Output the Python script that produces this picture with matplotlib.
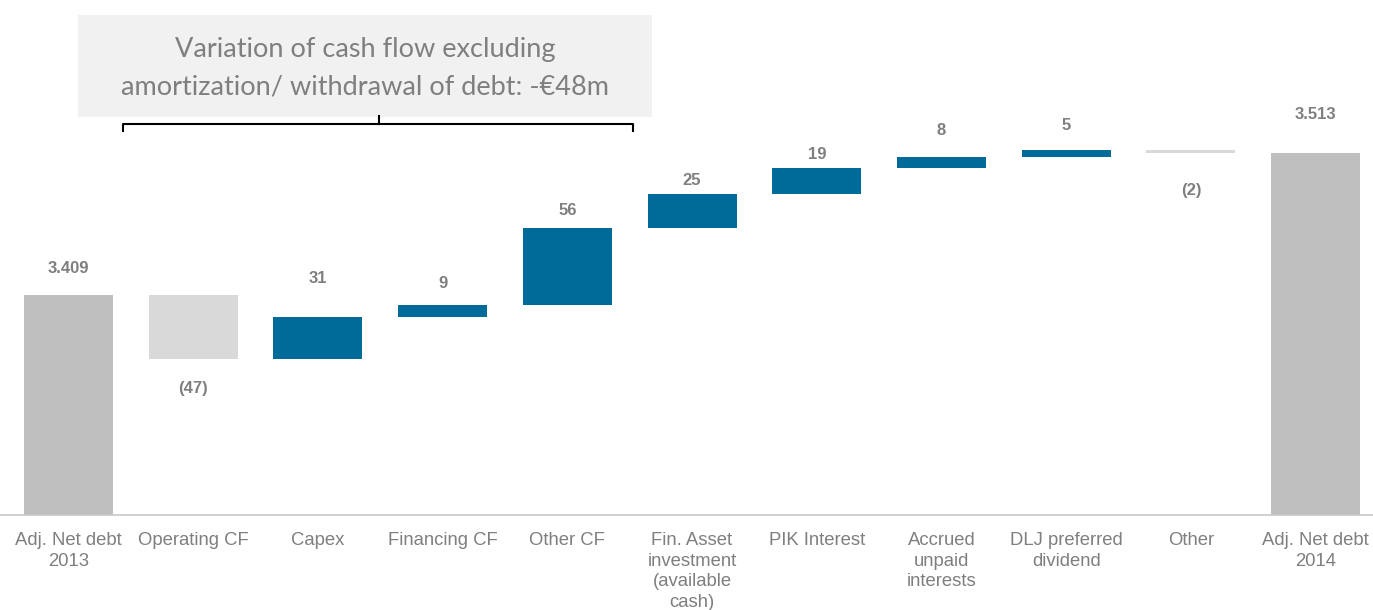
import numpy as np
import matplotlib.pyplot as plt
from matplotlib.patches import Rectangle

# net debt bridge, EUR m
categories = ["Adj. Net debt\n2013", "Operating CF", "Capex", "Financing CF", "Other CF",
              "Fin. Asset\ninvestment\n(available\ncash)", "PIK Interest",
              "Accrued\nunpaid\ninterests", "DLJ preferred\ndividend", "Other",
              "Adj. Net debt\n2014"]
start_value = 3409
steps = [-47, 31, 9, 56, 25, 19, 8, 5, -2]
end_value = 3513
value_labels = ["3.409", "(47)", "31", "9", "56", "25", "19", "8", "5", "(2)", "3.513"]
note_text = "Variation of cash flow excluding\namortization/ withdrawal of debt: -€48m"

# label distance from bar edge (points), positive = above top
label_offsets = [19, -21, 28, 15, 13, 10, 10, 19, 18, -27, 28]

TOTAL = "#bfbfbf"
UP = "#006b99"
DOWN = "#d9d9d9"
TEXT = "#7f7f7f"

plt.rcParams['font.family'] = ['Liberation Sans', 'DejaVu Sans']

fig = plt.figure(figsize=(13.73, 6.1), dpi=100)
ax = fig.add_axes([0.0, 0.1557, 1.0, 0.8443])

x = np.arange(len(categories))
bottoms, heights, colors = [], [], []
bottoms.append(0)
heights.append(start_value)
colors.append(TOTAL)
level = start_value
for s in steps:
    new = level + s
    bottoms.append(min(level, new))
    heights.append(abs(s))
    colors.append(UP if s > 0 else DOWN)
    level = new
bottoms.append(0)
heights.append(end_value)
colors.append(TOTAL)

ax.bar(x, heights, bottom=bottoms, width=0.714, color=colors, edgecolor="none", zorder=2)

for i, (b, h, lab, off) in enumerate(zip(bottoms, heights, value_labels, label_offsets)):
    yref = b + h if off > 0 else b
    ax.annotate(lab, (x[i], yref), xytext=(0, off), textcoords="offset points",
                ha="center", va="center", fontsize=12, fontweight="bold", color=TEXT)

ax.set_xlim(-0.549, 10.46)
ax.set_ylim(3248, 3625)
ax.set_xticks(x)
ax.set_xticklabels(categories, fontsize=13.3, color=TEXT, linespacing=1.3, va="top")
ax.tick_params(axis="x", length=0, pad=12)
ax.set_yticks([])
for side in ["left", "right", "top"]:
    ax.spines[side].set_visible(False)
ax.spines["bottom"].set_color("#c8c8c8")
ax.spines["bottom"].set_linewidth(1.2)
ax.patch.set_alpha(0)

# note box and bracket over the cash-flow items
W, H = 1373, 610
fig.patches.append(Rectangle((78 / W, 1 - 117 / H), 574 / W, 102 / H,
                             transform=fig.transFigure, facecolor="#f1f1f1",
                             edgecolor="none", zorder=0))
fig.text(365 / W, 1 - 68 / H, note_text, ha="center", va="center", fontsize=19.5,
         color=TEXT, family=["Lato", "DejaVu Sans"], linespacing=1.6)

by = 1 - 124 / H
bx0, bx1, bxc = 123 / W, 633 / W, 379 / W
fig.add_artist(plt.Line2D([bx0, bx0, bx1, bx1], [1 - 131 / H, by, by, 1 - 131 / H],
                          transform=fig.transFigure, color="black", lw=1.5))
fig.add_artist(plt.Line2D([bxc, bxc], [by, 1 - 116 / H],
                          transform=fig.transFigure, color="black", lw=1.5))

fig.savefig("out.png", dpi=100)
